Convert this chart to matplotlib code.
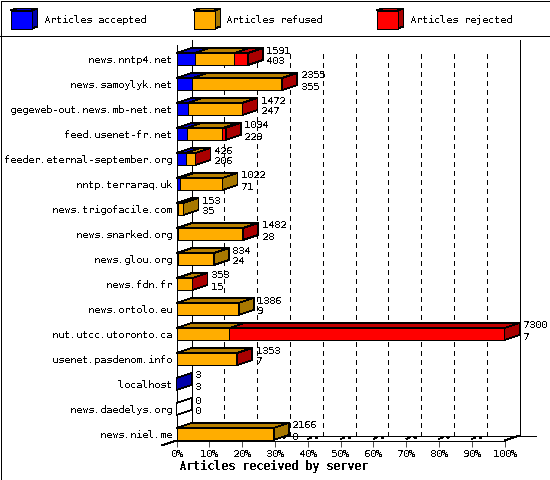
import matplotlib
matplotlib.use("Agg")
import matplotlib.pyplot as plt
from matplotlib.patches import Polygon

plt.rcParams['font.family'] = ['DejaVu Sans Mono']
plt.rcParams['text.antialiased'] = False
plt.rcParams['text.hinting'] = 'native'
plt.rcParams['text.hinting_factor'] = 1

# data (article counts)
servers = ["news.nntp4.net", "news.samoylyk.net", "gegeweb-out.news.mb-net.net",
           "feed.usenet-fr.net", "feeder.eternal-september.org", "nntp.terraraq.uk",
           "news.trigofacile.com", "news.snarked.org", "news.glou.org", "news.fdn.fr",
           "news.ortolo.eu", "nut.utcc.utoronto.ca", "usenet.pasdenom.info",
           "localhost", "news.daedelys.org", "news.niel.me"]
totals = [1591, 2355, 1472, 1094, 426, 1022, 153, 1482, 834, 353, 1386, 7300, 1353, 3, 0, 2166]
accepted = [403, 355, 247, 229, 206, 71, 35, 28, 24, 15, 9, 7, 7, 3, 0, 0]
refused = [884, 1990, 1204, 791, 215, 951, 118, 1444, 810, 335, 1377, 1168, 1340, 0, 0, 2166]
rejected = [304, 10, 21, 74, 5, 0, 0, 10, 0, 3, 0, 6125, 6, 0, 0, 0]
percent_ticks = [0, 10, 20, 30, 40, 50, 60, 70, 80, 90, 100]
legend_labels = ["Articles accepted", "Articles refused", "Articles rejected"]
x_title = "Articles received by server"

# (front, top, side) colours per series
colors = [("#0000ff", "#0000c0", "#0000aa"),
          ("#ffad00", "#b88000", "#a87800"),
          ("#ff0000", "#c00000", "#aa0000")]

W, H = 550, 480
x_max = 7300
px_x = x_max / 328.0     # counts per pixel
px_y = 1 / 25.0          # rows per pixel
dx = 15 * px_x           # 3d depth
dy = -5 * px_y
half = 6 * px_y
LW = 0.5
FS = 7.4


def para(ax, pts, face, z=3):
    ax.add_patch(Polygon(pts, closed=True, facecolor=face, edgecolor='black',
                         linewidth=LW, antialiased=False, clip_on=False, zorder=z))


def line(ax, xs, ys, **kw):
    kw.setdefault('color', 'black')
    kw.setdefault('linewidth', LW)
    ax.plot(xs, ys, antialiased=False, clip_on=False, solid_capstyle='butt', **kw)


fig = plt.figure(figsize=(W / 100, H / 100), dpi=100)

# whole-figure axes in pixels: frame and legend
frame = fig.add_axes([0, 0, 1, 1])
frame.set_xlim(0, W)
frame.set_ylim(H, 0)
frame.axis('off')
frame.add_patch(plt.Rectangle((0.5, 0.5), W - 1, H - 1, fill=False, edgecolor='black',
                              linewidth=LW, antialiased=False))
line(frame, [0, W], [35.5, 35.5])
for lx, label, (front, top, side) in zip([10.5, 193.5, 376.5], legend_labels, colors):
    para(frame, [(lx, 10.5), (lx + 6, 8.5), (lx + 27, 8.5), (lx + 21, 10.5)], top)
    para(frame, [(lx + 21, 10.5), (lx + 27, 8.5), (lx + 27, 26.5), (lx + 21, 28.5)], side)
    para(frame, [(lx, 10.5), (lx + 21, 10.5), (lx + 21, 28.5), (lx, 28.5)], front)
    frame.text(lx + 33, 20, label, fontsize=FS, ha='left', va='center')

# plot axes: front plane of the 3d box
left, right = 176.5, 504.5
top_px, bottom_px = 40.0, 440.5
ax = fig.add_axes([left / W, 1 - bottom_px / H, (right - left) / W, (bottom_px - top_px) / H])
ax.patch.set_alpha(0)
ax.set_xlim(0, x_max)
y0 = (bottom_px - 59) * px_y
y1 = (top_px - 59) * px_y
ax.set_ylim(y0, y1)
for s in ax.spines.values():
    s.set_visible(False)

rows = list(range(len(servers)))
ax.set_yticks(rows)
ax.set_yticklabels(servers, fontsize=FS)
ax.tick_params(axis='y', length=0, pad=3)
ticks = [p / 100 * x_max for p in percent_ticks]
ax.set_xticks(ticks)
ax.set_xticklabels([f"{p}%" for p in percent_ticks], fontsize=FS)
ax.tick_params(axis='x', length=4.5, width=LW, pad=1.5)
ax.set_xlabel(x_title, fontsize=8.9, fontweight='bold', labelpad=1)
ax.xaxis.set_label_coords(97 / 328, -26 / 400.5, transform=ax.transAxes)
ax.xaxis.label.set_va('center')

# walls and floor
line(ax, [0, 0], [y0, y1 + 5 * px_y])
line(ax, [dx, dx], [y0 + dy, y1])
line(ax, [x_max + dx, x_max + dx], [y0 + dy, y1])
line(ax, [0, x_max], [y0, y0])
line(ax, [dx, x_max + 31 * px_x], [y0 + dy, y0 + dy])
line(ax, [x_max, x_max + dx], [y0, y0 + dy])
line(ax, [-15 * px_x, 0], [y0 - dy, y0])
for t in ticks[1:-1]:
    line(ax, [t + dx, t + dx], [y0 + dy, y1 + 10 * px_y], linestyle=(0, (5.8, 5.8)), zorder=1)
    line(ax, [t, t + 4 * px_x], [y0 - 1.5 * px_y, y0 - 3 * px_y], zorder=1)
    line(ax, [t + 8 * px_x, t + 10 * px_x], [y0 - 3 * px_y, y0 - 3.5 * px_y], linewidth=1.4, zorder=1)

# stacked 3d bars
for row in rows:
    start = 0
    last_side = None
    top_y, low_y = row - half, row + half
    for value, (front, top, side) in zip((accepted[row], refused[row], rejected[row]), colors):
        if value == 0:
            continue
        end = start + value
        para(ax, [(start, low_y), (end, low_y), (end, top_y), (start, top_y)], front)
        para(ax, [(start, top_y), (end, top_y), (end + dx, top_y + dy), (start + dx, top_y + dy)], top)
        start = end
        last_side = side
    para(ax, [(start, top_y), (start + dx, top_y + dy), (start + dx, low_y + dy), (start, low_y)],
         last_side if last_side else 'white')
    ax.text(start + dx + 3.5 * px_x, row - 8.5 * px_y, str(totals[row]), fontsize=FS, ha='left', va='center')
    ax.text(start + dx + 3.5 * px_x, row + 2.5 * px_y, str(accepted[row]), fontsize=FS, ha='left', va='center')

fig.savefig("out.png", dpi=100)
